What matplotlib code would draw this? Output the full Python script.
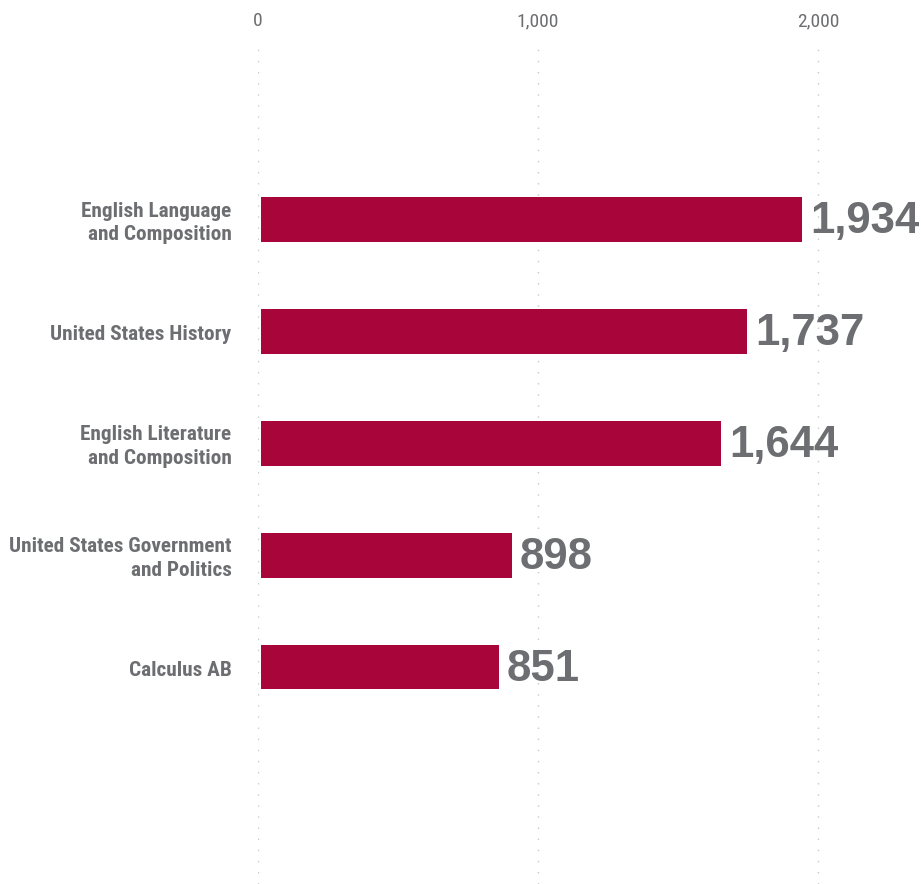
import matplotlib
matplotlib.use("Agg")
import matplotlib.pyplot as plt

categories = ["English Language\nand Composition",
              "United States History",
              "English Literature\nand Composition",
              "United States Government\nand Politics",
              "Calculus AB"]
values = [1934, 1737, 1644, 898, 851]
tick_values = [0, 1000, 2000]
tick_labels = ["0", "1,000", "2,000"]

FONT = ["Roboto Condensed", "DejaVu Sans"]
VFONT = ["Liberation Sans", "DejaVu Sans"]
GRAY = "#6d6e71"
BAR = "#a8063a"

W, H = 921, 884
fig = plt.figure(figsize=(W / 100, H / 100), dpi=100)
ax_left = 258 / W
ax_right = 921 / W
ax_top = 1 - 40 / H
ax_bottom = 0.0
ax = fig.add_axes([ax_left, ax_bottom, ax_right - ax_left, ax_top - ax_bottom])

xmax = (921 - 258) / 0.28
ax.set_xlim(0, xmax)
ax.set_ylim(5.94, -1.607)

y = list(range(len(categories)))
ax.barh(y, values, height=0.4, color=BAR, left=10, zorder=2)

for yi, v in zip(y, values):
    ax.text(v + 38, yi + 0.02, f"{v:,}", va="center", ha="left",
            fontsize=31.5, fontweight="bold", color=GRAY, family=VFONT, zorder=3)

for yi, c in zip(y, categories):
    ax.text(-95, yi + 0.03, c, va="center", ha="right", fontsize=15.3,
            fontweight="bold", color=GRAY, family=FONT, linespacing=1.3)

for tv in tick_values:
    ax.axvline(tv, color="#c8c8c8", lw=1, linestyle=(0, (1, 7)), zorder=1)

ax.set_xticks(tick_values)
ax.set_xticklabels(tick_labels, family=FONT, fontsize=14, color=GRAY)
ax.xaxis.tick_top()
ax.tick_params(axis="x", length=0, pad=7)
ax.set_yticks([])
for s in ax.spines.values():
    s.set_visible(False)

fig.savefig("out.png", dpi=100)
